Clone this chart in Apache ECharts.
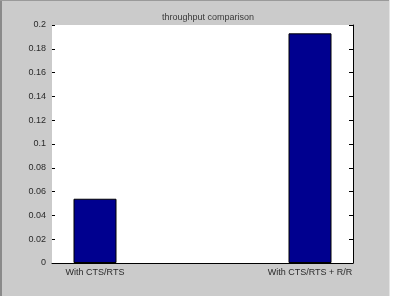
<!DOCTYPE html>
<html>
<head>
<meta charset="utf-8">
<script src="https://cdn.jsdelivr.net/npm/echarts@6/dist/echarts.min.js"></script>
<style>
html,body{margin:0;padding:0;background:#fff;}
#c{width:395px;height:300px;}
</style>
</head>
<body>
<div id="c"></div>
<script>
var categories = ["With CTS/RTS", "With CTS/RTS + R/R"];
var categoryPositions = [1, 2];
var throughputValues = [0.054, 0.193];
var titleText = "throughput comparison";

var chart = echarts.init(document.getElementById('c'), null, {renderer: 'canvas'});
var barData = categoryPositions.map(function (p, i) { return [p, throughputValues[i]]; });
var fmtY = function (v) { return String(parseFloat(v.toFixed(2))); };
var font = 'Liberation Sans, Arial, sans-serif';

chart.setOption({
  animation: false,
  backgroundColor: '#ffffff',
  graphic: [
    {type: 'rect', left: 0, top: 0, shape: {width: 390, height: 296}, style: {fill: '#cbcbcb'}, z: -10},
    {type: 'rect', left: 0, top: 0, shape: {width: 2, height: 296}, style: {fill: '#8a8a8a'}, z: -9},
    {type: 'rect', left: 0, top: 0, shape: {width: 390, height: 1}, style: {fill: '#9a9a9a'}, z: -9},
    {type: 'rect', left: 389, top: 0, shape: {width: 1, height: 296}, style: {fill: '#e4e4e4'}, z: -9}
  ],
  title: {
    text: titleText,
    left: 203, top: 8, textAlign: 'center',
    textStyle: {fontSize: 9, fontWeight: 'normal', color: '#3a3a3a', fontFamily: font}
  },
  grid: {left: 52, right: 42, top: 25, bottom: 37, show: true, backgroundColor: '#ffffff', borderWidth: 0},
  xAxis: {
    type: 'value', min: 0.8, max: 2.2,
    splitLine: {show: false},
    axisLine: {show: true, onZero: false, lineStyle: {color: '#000', width: 1}},
    axisTick: {show: false},
    axisLabel: {
      customValues: categoryPositions,
      formatter: function (v) { var i = categoryPositions.indexOf(v); return i >= 0 ? categories[i] : ''; },
      fontSize: 9, color: '#2a2a2a', fontFamily: font, margin: 5
    }
  },
  yAxis: [
    {
      type: 'value', min: 0, max: 0.2, interval: 0.02, position: 'left',
      splitLine: {show: false},
      axisLine: {show: false},
      axisTick: {show: true, inside: true, length: 3, lineStyle: {color: '#000'}},
      axisLabel: {formatter: fmtY, fontSize: 9, color: '#2a2a2a', fontFamily: font, margin: 6}
    },
    {
      type: 'value', min: 0, max: 0.2, interval: 0.02, position: 'right',
      splitLine: {show: false},
      axisLine: {show: true, lineStyle: {color: '#000', width: 1}},
      axisTick: {show: true, inside: true, length: 4, lineStyle: {color: '#000'}},
      axisLabel: {show: false}
    }
  ],
  series: [{
    type: 'bar',
    data: barData,
    barWidth: 43,
    itemStyle: {color: '#00008f', borderColor: '#000', borderWidth: 1}
  }]
});
</script>
</body>
</html>
